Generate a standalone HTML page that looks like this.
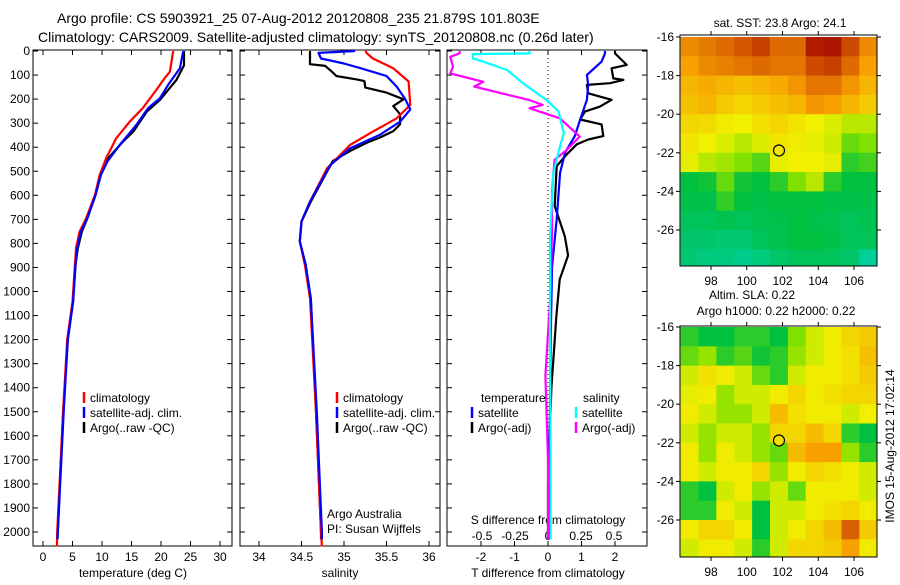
<!DOCTYPE html>
<html><head><meta charset="utf-8"><style>
body{margin:0;background:#fff;}
svg text{font-family:"Liberation Sans",sans-serif;fill:#000;}
</style></head><body>
<svg id="c" width="900" height="580" viewBox="0 0 900 580">
<text x="57" y="23" font-size="14">Argo profile: CS 5903921_25 07-Aug-2012 20120808_235 21.879S 101.803E</text>
<text x="38" y="42" font-size="14">Climatology: CARS2009. Satellite-adjusted climatology: synTS_20120808.nc (0.26d later)</text>
</svg>
<script>
// ---------- data ----------
const depthTicks=[0,100,200,300,400,500,600,700,800,900,1000,1100,1200,1300,1400,1500,1600,1700,1800,1900,2000];
const tempTicks=[0,5,10,15,20,25,30];
const salTicks=[34,34.5,35,35.5,36];
const salTickLabels=["34","34.5","35","35.5","36"];
const tdiffTicks=[-2,-1,0,1,2];
const sdiffTicks=[-0.5,-0.25,0,0.25,0.5];
const sdiffTickLabels=["-0.5","-0.25","0","0.25","0.5"];

const tClimD=[0,10,86,114,162,238,294,363,446,516,599,696,751,820,890,1042,1200,1500,2000,2060];
const tClimV=[22.1,22.0,21.5,20.6,19.2,16.9,14.7,12.4,10.7,9.6,8.8,7.3,6.2,5.6,5.4,5.0,4.1,3.4,2.4,2.35];
const tSatD=[0,10,72,141,197,238,308,391,460,516,599,696,751,820,890,1042,1200,1500,2000,2030];
const tSatV=[23.8,23.7,23.2,21.2,19.8,17.8,15.8,13.0,10.9,9.8,8.9,7.5,6.4,5.8,5.5,5.1,4.2,3.5,2.5,2.45];
const tArgoD=[0,60,121,204,252,335,376,453,516,599,696,751,820,890,1042,1200,1500,2000,2030];
const tArgoV=[23.9,23.9,22.6,19.8,17.6,15.3,13.6,10.8,9.8,8.9,7.5,6.6,5.9,5.5,5.1,4.2,3.4,2.5,2.45];

const sClimD=[0,10,31,72,127,224,280,335,391,488,626,709,792,890,1029,1500,2000,2060];
const sClimV=[35.25,35.27,35.34,35.58,35.76,35.78,35.62,35.34,35.07,34.80,34.60,34.50,34.48,34.54,34.60,34.67,34.73,34.74];
const sSatD=[0,8,31,52,72,104,148,200,243,294,349,405,474,626,709,792,890,1029,1500,2000,2030];
const sSatV=[35.13,34.70,34.73,35.00,35.20,35.50,35.62,35.72,35.78,35.66,35.42,35.07,34.84,34.60,34.50,34.48,34.55,34.61,34.68,34.74,34.74];
const sArgoD=[0,55,62,90,104,118,125,152,173,201,229,263,305,333,360,381,416,457,626,709,792,890,1029,1500,2000,2030];
const sArgoV=[34.60,34.60,34.78,34.87,34.91,35.15,35.24,35.25,35.50,35.70,35.58,35.66,35.66,35.58,35.42,35.27,35.07,34.87,34.61,34.50,34.48,34.55,34.61,34.67,34.73,34.73];

const dtSatD=[0,10,44,100,141,203,285,354,423,506,699,900,1200,1600,2030];
const dtSatV=[1.7,1.7,1.6,1.16,1.2,1.16,0.96,0.8,0.51,0.36,0.26,0.12,0.08,0.05,0.03];
const dtArgoD=[0,10,58,72,114,120,134,141,176,203,231,252,285,305,354,368,388,430,478,645,770,850,950,1100,1400,1800,2030];
const dtArgoV=[2.0,2.0,2.35,1.9,1.95,2.25,1.85,1.16,1.2,1.9,1.55,1.1,0.96,1.6,1.65,1.2,0.86,0.56,0.26,0.2,0.5,0.6,0.35,0.25,0.1,0.0,0.0];
const dsSatD=[0,10,13,31,44,79,134,204,252,342,398,509,770,1200,1700,2030];
const dsSatV=[-0.14,-0.14,-0.57,-0.57,-0.49,-0.31,-0.19,-0.01,0.08,0.12,0.09,0.04,0.015,0.015,0.02,0.02];
const dsArgoD=[0,10,24,65,93,128,148,204,224,238,280,356,412,453,578,755,1000,1350,1700,2030];
const dsArgoV=[-0.67,-0.67,-0.74,-0.72,-0.74,-0.49,-0.56,-0.14,-0.04,-0.14,0.09,0.24,0.14,0.05,0.03,0.03,0.02,-0.02,0.0,0.0];

const mapLonTicks=[98,100,102,104,106];
const mapLatTicks=[16,18,20,22,24,26];
const mapLons=[96.8,97.8,98.8,99.8,100.8,101.8,102.8,103.8,104.8,105.8,106.8];
const mapLats=[-16.5,-17.5,-18.5,-19.5,-20.5,-21.5,-22.5,-23.5,-24.5,-25.5,-26.5,-27.5];
const sstGrid=[
[0.74,0.77,0.8,0.84,0.88,0.8,0.8,0.95,0.96,0.86,0.74],
[0.7,0.74,0.76,0.78,0.8,0.78,0.78,0.86,0.88,0.8,0.7],
[0.66,0.68,0.66,0.64,0.66,0.68,0.72,0.78,0.78,0.72,0.66],
[0.64,0.66,0.62,0.6,0.62,0.64,0.66,0.72,0.7,0.66,0.62],
[0.6,0.59,0.56,0.55,0.58,0.6,0.57,0.55,0.53,0.5,0.5],
[0.57,0.55,0.53,0.5,0.53,0.57,0.56,0.54,0.52,0.42,0.45],
[0.54,0.5,0.48,0.45,0.4,0.54,0.55,0.55,0.54,0.35,0.38],
[0.3,0.32,0.42,0.32,0.3,0.35,0.45,0.5,0.35,0.3,0.3],
[0.28,0.28,0.36,0.3,0.28,0.3,0.3,0.3,0.28,0.28,0.28],
[0.25,0.25,0.27,0.25,0.27,0.28,0.3,0.28,0.27,0.25,0.27],
[0.22,0.22,0.2,0.2,0.25,0.27,0.3,0.3,0.28,0.25,0.25],
[0.2,0.18,0.18,0.15,0.18,0.22,0.25,0.25,0.25,0.22,0.12]];
const slaGrid=[
[0.35,0.3,0.3,0.35,0.35,0.3,0.45,0.52,0.56,0.6,0.62],
[0.42,0.47,0.35,0.4,0.32,0.35,0.47,0.52,0.56,0.58,0.64],
[0.52,0.58,0.56,0.52,0.42,0.35,0.52,0.56,0.56,0.58,0.62],
[0.54,0.56,0.47,0.52,0.52,0.56,0.6,0.56,0.58,0.6,0.6],
[0.56,0.52,0.47,0.47,0.52,0.65,0.58,0.56,0.56,0.52,0.55],
[0.52,0.47,0.52,0.52,0.47,0.6,0.6,0.65,0.6,0.35,0.3],
[0.56,0.47,0.56,0.52,0.47,0.42,0.65,0.7,0.7,0.47,0.35],
[0.56,0.52,0.56,0.56,0.6,0.47,0.56,0.6,0.58,0.56,0.52],
[0.35,0.3,0.52,0.56,0.47,0.52,0.42,0.56,0.56,0.56,0.52],
[0.35,0.35,0.56,0.52,0.3,0.52,0.52,0.56,0.58,0.6,0.56],
[0.56,0.6,0.6,0.56,0.3,0.52,0.56,0.6,0.65,0.82,0.62],
[0.52,0.56,0.56,0.52,0.35,0.52,0.6,0.6,0.62,0.7,0.56]];
const floatLon=101.803, floatLat=-21.879;

// ---------- helpers ----------
const svg=document.getElementById('c');
const NS='http://www.w3.org/2000/svg';
function mk(tag,attrs,parent){const e=document.createElementNS(NS,tag);for(const k in attrs)e.setAttribute(k,attrs[k]);(parent||svg).appendChild(e);return e;}
function txt(x,y,s,size,anchor,parent){const t=mk('text',{x:x,y:y,'font-size':size||12,'text-anchor':anchor||'start'},parent);t.textContent=s;return t;}
const PT=50, PB=546;
const yD=d=>51+d*0.2405;

function panel(name,x0,x1){
  const g=mk('g',{});
  
  
  mk('rect',{x:x0,y:PT,width:x1-x0,height:PB-PT,fill:'#fff',stroke:'#000','stroke-width':1},g);
  depthTicks.forEach(d=>{const y=yD(d);mk('line',{x1:x0,x2:x0+5,y1:y,y2:y,stroke:'#000'},g);mk('line',{x1:x1-5,x2:x1,y1:y,y2:y,stroke:'#000'},g);});
  return g;
}
function series(g,name,D,V,fx,color,w){
  const p=mk('polyline',{points:D.map((d,i)=>fx(V[i]).toFixed(1)+','+yD(d).toFixed(1)).join(' '),fill:'none',stroke:color,'stroke-width':w||2.2,'stroke-linejoin':'round'},g);
  
  
}
function legend(g,x,y,items){
  items.forEach((it,i)=>{const yy=y+i*15;mk('line',{x1:x,x2:x,y1:yy-10,y2:yy+1,stroke:it[1],'stroke-width':2.5},g);const t=txt(x+6,yy,it[0],12,'start',g);
    });
}

const yl=mk('g',{});


depthTicks.forEach(d=>txt(30,yD(d)+4,String(d),12,'end',yl));

// Panel 1
const fT=v=>43+v*5.9;
const g1=panel('temperature-panel',33,232);
tempTicks.forEach(v=>{const x=fT(v);mk('line',{x1:x,x2:x,y1:PT,y2:PT+5,stroke:'#000'},g1);mk('line',{x1:x,x2:x,y1:PB-5,y2:PB,stroke:'#000'},g1);txt(x,561,String(v),12,'middle',g1);});
txt(133,577,'temperature (deg C)',12,'middle',g1);
series(g1,'temp-argo-line',tArgoD,tArgoV,fT,'#000');
series(g1,'temp-climatology-line',tClimD,tClimV,fT,'#f00');
series(g1,'temp-satellite-line',tSatD,tSatV,fT,'#00f');
legend(g1,84,402,[['climatology','#f00'],['satellite-adj. clim.','#00f'],['Argo(..raw -QC)','#000']]);

// Panel 2
const fS=v=>259+(v-34)*85;
const g2=panel('salinity-panel',240,440);
salTicks.forEach((v,i)=>{const x=fS(v);mk('line',{x1:x,x2:x,y1:PT,y2:PT+5,stroke:'#000'},g2);mk('line',{x1:x,x2:x,y1:PB-5,y2:PB,stroke:'#000'},g2);txt(x,561,salTickLabels[i],12,'middle',g2);});
txt(340,577,'salinity',12,'middle',g2);
series(g2,'sal-argo-line',sArgoD,sArgoV,fS,'#000');
series(g2,'sal-climatology-line',sClimD,sClimV,fS,'#f00');
series(g2,'sal-satellite-line',sSatD,sSatV,fS,'#00f');
legend(g2,337,402,[['climatology','#f00'],['satellite-adj. clim.','#00f'],['Argo(..raw -QC)','#000']]);
txt(327,518,'Argo Australia',12,'start',g2);
txt(327,533,'PI: Susan Wijffels',12,'start',g2);

// Panel 3
const fdT=v=>548+v*33.5;
const fdS=v=>548+v*132;
const g3=panel('difference-panel',447,647);
mk('line',{x1:548,x2:548,y1:PT,y2:PB,stroke:'#000','stroke-dasharray':'1,3'},g3);
tdiffTicks.forEach(v=>{const x=fdT(v);mk('line',{x1:x,x2:x,y1:PT,y2:PT+5,stroke:'#000'},g3);mk('line',{x1:x,x2:x,y1:PB-5,y2:PB,stroke:'#000'},g3);txt(x,561,String(v),12,'middle',g3);});
sdiffTicks.forEach((v,i)=>txt(fdS(v),540,sdiffTickLabels[i],12,'middle',g3));
txt(548,524,'S difference from climatology',12,'middle',g3);
txt(548,577,'T difference from climatology',12,'middle',g3);
series(g3,'tdiff-argo-line',dtArgoD,dtArgoV,fdT,'#000');
series(g3,'tdiff-satellite-line',dtSatD,dtSatV,fdT,'#00f');
series(g3,'sdiff-argo-line',dsArgoD,dsArgoV,fdS,'#f0f');
series(g3,'sdiff-satellite-line',dsSatD,dsSatV,fdS,'#0ff');
txt(481,402,'temperature',12,'start',g3);
txt(583,402,'salinity',12,'start',g3);
legend(g3,472,417,[['satellite','#00f'],['Argo(-adj)','#000']]);
legend(g3,576,417,[['satellite','#0ff'],['Argo(-adj)','#f0f']]);

// colormap
const cStops=[[0,[0,216,216]],[0.3,[0,192,64]],[0.45,[128,224,0]],[0.55,[240,240,0]],[0.7,[248,160,0]],[0.85,[208,80,0]],[1,[160,0,0]]];
function cmap(v){for(let i=1;i<cStops.length;i++){if(v<=cStops[i][0]){const a=cStops[i-1],b=cStops[i];const t=(v-a[0])/(b[0]-a[0]);return 'rgb('+a[1].map((c,k)=>Math.round(c+(b[1][k]-c)*t)).join(',')+')';}}return 'rgb(160,0,0)';}

function map(name,top,bottom,lat16y,lat26y,grid,circFill,titles){
  const x0=680,x1=877;
  const fx=lon=>711+(lon-98)*17.875;
  const fy=lat=>lat16y+(-lat-16)*(lat26y-lat16y)/10;
  const g=mk('g',{});
  
  
  const cw=17.875, ch=(lat26y-lat16y)/10;
  const cp=mk('clipPath',{id:name+'-clip'},g);
  mk('rect',{x:x0,y:top,width:x1-x0,height:bottom-top},cp);
  const cells=mk('g',{'clip-path':'url(#'+name+'-clip)'},g);
  grid.forEach((row,r)=>row.forEach((v,c)=>{
    const cell=mk('rect',{x:(fx(mapLons[c])-cw/2).toFixed(1),y:(fy(mapLats[r])-ch/2).toFixed(1),width:cw+0.6,height:ch+0.6,fill:cmap(v)},cells);
    
    
  }));
  mk('rect',{x:x0,y:top,width:x1-x0,height:bottom-top,fill:'none',stroke:'#000'},g);
  mapLonTicks.forEach(l=>{const x=fx(l);mk('line',{x1:x,x2:x,y1:top-4,y2:top,stroke:'#000'},g);mk('line',{x1:x,x2:x,y1:bottom,y2:bottom+4,stroke:'#000'},g);txt(x,bottom+19,String(l),12,'middle',g);});
  mapLatTicks.forEach(l=>{const y=fy(-l);mk('line',{x1:x0-4,x2:x0,y1:y,y2:y,stroke:'#000'},g);mk('line',{x1:x1,x2:x1+4,y1:y,y2:y,stroke:'#000'},g);txt(x0-6,y+4,'-'+l,12,'end',g);});
  const c=mk('circle',{cx:fx(floatLon),cy:fy(floatLat),r:5.5,fill:circFill,stroke:'#000','stroke-width':1.2},g);
  
  
  titles.forEach(t=>txt(t[0],t[1],t[2],12,'middle',g));
}
map('sst-map',35,266,37,230,sstGrid,'none',[[780,27,'sat. SST: 23.8 Argo: 24.1']]);
map('sla-map',326,557,327,520,slaGrid,'#f0e000',[[752,299,'Altim. SLA: 0.22'],[776,315,'Argo h1000: 0.22 h2000: 0.22']]);

const vt=txt(0,0,'IMOS 15-Aug-2012 17:02:14',12,'middle');
vt.setAttribute('transform','translate(894,446) rotate(-90)');


</script>
</body></html>
